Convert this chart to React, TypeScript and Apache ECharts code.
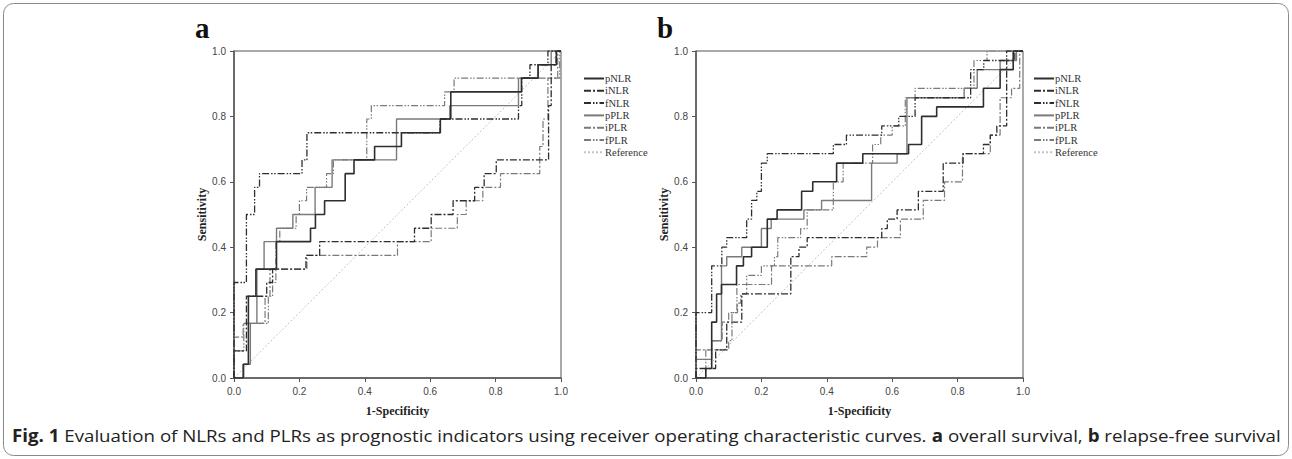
import React, { useEffect, useRef } from "react";
import * as echarts from "echarts";

const seriesNames = ["pNLR", "iNLR", "fNLR", "pPLR", "iPLR", "fPLR", "Reference"];
const tickValues = [0, 0.2, 0.4, 0.6, 0.8, 1.0];

// Panel a: overall survival ROC curves [1-specificity, sensitivity]
const aPNLR = [[0,0],[0.028,0],[0.028,0.042],[0.044,0.042],[0.044,0.25],[0.067,0.25],[0.067,0.333],[0.13,0.333],[0.13,0.417],[0.234,0.417],[0.234,0.458],[0.249,0.458],[0.249,0.5],[0.277,0.5],[0.277,0.542],[0.34,0.542],[0.34,0.625],[0.367,0.625],[0.367,0.667],[0.43,0.667],[0.43,0.708],[0.512,0.708],[0.512,0.75],[0.631,0.75],[0.631,0.792],[0.663,0.792],[0.663,0.875],[0.879,0.875],[0.879,0.917],[0.93,0.917],[0.93,0.958],[0.986,0.958],[0.986,1],[1,1]];
const aINLR = [[0,0],[0,0.083],[0.038,0.083],[0.038,0.25],[0.1,0.25],[0.1,0.292],[0.118,0.292],[0.118,0.333],[0.22,0.333],[0.22,0.375],[0.262,0.375],[0.262,0.417],[0.552,0.417],[0.552,0.458],[0.603,0.458],[0.603,0.5],[0.67,0.5],[0.67,0.542],[0.736,0.542],[0.736,0.583],[0.765,0.583],[0.765,0.625],[0.802,0.625],[0.802,0.667],[0.962,0.667],[0.962,0.833],[0.97,0.833],[0.97,0.958],[0.985,0.958],[0.985,1],[1,1]];
const aFNLR = [[0,0],[0,0.292],[0.038,0.292],[0.038,0.5],[0.063,0.5],[0.063,0.583],[0.078,0.583],[0.078,0.625],[0.208,0.625],[0.208,0.667],[0.223,0.667],[0.223,0.75],[0.63,0.75],[0.63,0.792],[0.87,0.792],[0.87,0.833],[0.88,0.833],[0.88,0.917],[0.905,0.917],[0.905,0.958],[0.96,0.958],[0.96,1],[1,1]];
const aPPLR = [[0,0],[0.03,0],[0.03,0.042],[0.05,0.042],[0.05,0.167],[0.07,0.167],[0.07,0.333],[0.092,0.333],[0.092,0.417],[0.13,0.417],[0.13,0.458],[0.18,0.458],[0.18,0.5],[0.248,0.5],[0.248,0.583],[0.3,0.583],[0.3,0.667],[0.497,0.667],[0.497,0.792],[0.66,0.792],[0.66,0.833],[0.87,0.833],[0.87,0.917],[0.93,0.917],[0.93,0.958],[0.97,0.958],[0.97,1],[1,1]];
const aIPLR = [[0,0],[0,0.125],[0.028,0.125],[0.028,0.167],[0.095,0.167],[0.095,0.25],[0.11,0.25],[0.11,0.333],[0.223,0.333],[0.223,0.375],[0.5,0.375],[0.5,0.417],[0.603,0.417],[0.603,0.458],[0.683,0.458],[0.683,0.5],[0.71,0.5],[0.71,0.542],[0.761,0.542],[0.761,0.583],[0.815,0.583],[0.815,0.625],[0.935,0.625],[0.935,0.708],[0.945,0.708],[0.945,0.792],[0.96,0.792],[0.96,0.917],[0.99,0.917],[0.99,1],[1,1]];
const aFPLR = [[0,0],[0,0.083],[0.03,0.083],[0.03,0.167],[0.105,0.167],[0.105,0.25],[0.118,0.25],[0.118,0.292],[0.128,0.292],[0.128,0.417],[0.14,0.417],[0.14,0.458],[0.19,0.458],[0.19,0.5],[0.2,0.5],[0.2,0.542],[0.222,0.542],[0.222,0.583],[0.283,0.583],[0.283,0.625],[0.304,0.625],[0.304,0.667],[0.406,0.667],[0.406,0.792],[0.42,0.792],[0.42,0.833],[0.644,0.833],[0.644,0.875],[0.673,0.875],[0.673,0.917],[0.996,0.917],[0.996,1],[1,1]];

// Panel b: relapse-free survival ROC curves
const bPNLR = [[0,0],[0.03,0],[0.03,0.029],[0.048,0.029],[0.048,0.171],[0.063,0.171],[0.063,0.257],[0.078,0.257],[0.078,0.286],[0.124,0.286],[0.124,0.343],[0.145,0.343],[0.145,0.371],[0.17,0.371],[0.17,0.4],[0.218,0.4],[0.218,0.486],[0.248,0.486],[0.248,0.514],[0.323,0.514],[0.323,0.571],[0.357,0.571],[0.357,0.6],[0.43,0.6],[0.43,0.657],[0.51,0.657],[0.51,0.686],[0.65,0.686],[0.65,0.714],[0.69,0.714],[0.69,0.8],[0.736,0.8],[0.736,0.829],[0.879,0.829],[0.879,0.886],[0.93,0.886],[0.93,0.943],[0.97,0.943],[0.97,1],[1,1]];
const bINLR = [[0,0],[0,0.029],[0.06,0.029],[0.06,0.086],[0.094,0.086],[0.094,0.171],[0.14,0.171],[0.14,0.257],[0.29,0.257],[0.29,0.371],[0.315,0.371],[0.315,0.4],[0.34,0.4],[0.34,0.429],[0.568,0.429],[0.568,0.457],[0.585,0.457],[0.585,0.486],[0.615,0.486],[0.615,0.514],[0.68,0.514],[0.68,0.571],[0.756,0.571],[0.756,0.657],[0.817,0.657],[0.817,0.686],[0.879,0.686],[0.879,0.714],[0.9,0.714],[0.9,0.743],[0.92,0.743],[0.92,0.771],[0.95,0.771],[0.95,0.971],[0.975,0.971],[0.975,1],[1,1]];
const bFNLR = [[0,0],[0,0.2],[0.048,0.2],[0.048,0.343],[0.079,0.343],[0.079,0.4],[0.094,0.4],[0.094,0.429],[0.155,0.429],[0.155,0.486],[0.17,0.486],[0.17,0.543],[0.186,0.543],[0.186,0.571],[0.2,0.571],[0.2,0.657],[0.218,0.657],[0.218,0.686],[0.42,0.686],[0.42,0.714],[0.46,0.714],[0.46,0.743],[0.568,0.743],[0.568,0.771],[0.62,0.771],[0.62,0.8],[0.67,0.8],[0.67,0.857],[0.84,0.857],[0.84,0.943],[0.88,0.943],[0.88,0.971],[0.95,0.971],[0.95,1],[1,1]];
const bPPLR = [[0,0],[0,0.057],[0.048,0.057],[0.048,0.114],[0.078,0.114],[0.078,0.343],[0.094,0.343],[0.094,0.371],[0.14,0.371],[0.14,0.4],[0.2,0.4],[0.2,0.457],[0.23,0.457],[0.23,0.486],[0.33,0.486],[0.33,0.514],[0.384,0.514],[0.384,0.543],[0.537,0.543],[0.537,0.657],[0.615,0.657],[0.615,0.686],[0.645,0.686],[0.645,0.857],[0.82,0.857],[0.82,0.886],[0.86,0.886],[0.86,0.943],[0.93,0.943],[0.93,0.971],[0.98,0.971],[0.98,1],[1,1]];
const bIPLR = [[0,0],[0,0.086],[0.048,0.086],[0.048,0.114],[0.08,0.114],[0.08,0.171],[0.1,0.171],[0.1,0.2],[0.127,0.2],[0.127,0.229],[0.137,0.229],[0.137,0.257],[0.155,0.257],[0.155,0.286],[0.231,0.286],[0.231,0.343],[0.415,0.343],[0.415,0.371],[0.522,0.371],[0.522,0.4],[0.555,0.4],[0.555,0.429],[0.625,0.429],[0.625,0.486],[0.695,0.486],[0.695,0.543],[0.76,0.543],[0.76,0.6],[0.815,0.6],[0.815,0.686],[0.9,0.686],[0.9,0.743],[0.93,0.743],[0.93,0.857],[0.965,0.857],[0.965,0.886],[0.99,0.886],[0.99,1],[1,1]];
const bFPLR = [[0,0],[0.03,0],[0.03,0.086],[0.1,0.086],[0.1,0.114],[0.11,0.114],[0.11,0.2],[0.125,0.2],[0.125,0.286],[0.155,0.286],[0.155,0.314],[0.2,0.314],[0.2,0.343],[0.24,0.343],[0.24,0.371],[0.25,0.371],[0.25,0.429],[0.32,0.429],[0.32,0.457],[0.34,0.457],[0.34,0.514],[0.42,0.514],[0.42,0.6],[0.45,0.6],[0.45,0.657],[0.54,0.657],[0.54,0.714],[0.565,0.714],[0.565,0.743],[0.6,0.743],[0.6,0.771],[0.64,0.771],[0.64,0.857],[0.67,0.857],[0.67,0.886],[0.85,0.886],[0.85,0.971],[0.89,0.971],[0.89,1],[1,1]];
const referenceLine = [[0,0],[1,1]];

const panelA = [aPNLR, aINLR, aFNLR, aPPLR, aIPLR, aFPLR, referenceLine];
const panelB = [bPNLR, bINLR, bFNLR, bPPLR, bIPLR, bFPLR, referenceLine];

const captionBold = "Fig. 1";
const captionText = " Evaluation of NLRs and PLRs as prognostic indicators using receiver operating characteristic curves. ";
const captionA = "a";
const captionAText = " overall survival, ";
const captionB = "b";
const captionBText = " relapse-free survival";

const DARK = "#2e2e2e";
const LIGHT = "#7a7a7a";
const styles = [
  { color: DARK, type: "solid", width: 1.6 },
  { color: DARK, type: [7, 2, 2, 2], width: 1.3 },
  { color: DARK, type: [7, 2, 1.5, 1.5, 1.5, 2], width: 1.3 },
  { color: LIGHT, type: "solid", width: 1.4 },
  { color: LIGHT, type: [7, 2, 2, 2], width: 1.2 },
  { color: LIGHT, type: [7, 2, 1.5, 1.5, 1.5, 2], width: 1.2 },
  { color: "#c4c4c4", type: [2, 2], width: 1 },
];

const GRID_TOP = 51;
const GRID_SIZE = 327;
const gridLefts = [234, 696];

export default function App() {
  const ref = useRef<HTMLDivElement>(null);
  useEffect(() => {
    if (!ref.current) return;
    const chart = echarts.init(ref.current, undefined, { renderer: "svg" });
    const axisCommon = {
      type: "value",
      min: 0,
      max: 1,
      interval: 0.2,
      axisLine: { show: true, onZero: false, lineStyle: { color: "#555", width: 1.5 } },
      axisTick: { show: true, inside: false, length: 4, lineStyle: { color: "#555" } },
      axisLabel: {
        color: "#444",
        fontSize: 10,
        fontFamily: "Liberation Sans, Arial, sans-serif",
        formatter: (v: number) => v.toFixed(1),
      },
      splitLine: { show: false },
      nameTextStyle: {
        fontFamily: "Liberation Serif, Times New Roman, serif",
        fontWeight: "bold",
        fontSize: 12,
        color: "#222",
      },
    };
    const grids = gridLefts.map((l) => ({
      left: l,
      top: GRID_TOP,
      width: GRID_SIZE,
      height: GRID_SIZE,
      show: true,
      borderColor: "#555",
      borderWidth: 1,
      backgroundColor: "transparent",
    }));
    const xAxes = gridLefts.map((_, i) => ({
      ...axisCommon,
      gridIndex: i,
      name: "1-Specificity",
      nameLocation: "middle",
      nameGap: 27,
    }));
    const yAxes = gridLefts.map((_, i) => ({
      ...axisCommon,
      gridIndex: i,
      name: "Sensitivity",
      nameLocation: "middle",
      nameGap: 26,
    }));
    const series: any[] = [];
    [panelA, panelB].forEach((panel, pi) => {
      panel.forEach((data, si) => {
        series.push({
          type: "line",
          name: seriesNames[si],
          xAxisIndex: pi,
          yAxisIndex: pi,
          data,
          symbol: "none",
          showSymbol: false,
          silent: true,
          color: styles[si].color,
          itemStyle: { color: styles[si].color },
          z: si === 6 ? 1 : 10 - si,
          lineStyle: styles[si],
        });
      });
    });
    const legendCommon = {
      orient: "vertical",
      top: 73,
      itemWidth: 20,
      itemHeight: 10,
      itemGap: 1.3,
      data: seriesNames,
      itemStyle: { opacity: 0, borderWidth: 0 },
      textStyle: {
        fontFamily: "Liberation Serif, Times New Roman, serif",
        fontSize: 10.5,
        color: "#333",
        lineHeight: 10,
        padding: [0, 0, 0, -4],
      },
      padding: 0,
    };
    chart.setOption({
      animation: false,
      backgroundColor: "#fff",
      grid: grids,
      xAxis: xAxes,
      yAxis: yAxes,
      legend: [
        { ...legendCommon, left: 583 },
        { ...legendCommon, left: 1033 },
      ],
      series,
      graphic: [
        {
          type: "rect",
          shape: { x: 3.5, y: 3.5, width: 1285, height: 452, r: 10 },
          style: { fill: "none", stroke: "#8a8a8a", lineWidth: 1 },
          silent: true,
        },
        {
          type: "text",
          left: 195,
          top: 13,
          style: { text: "a", font: "bold 29px 'Liberation Serif', serif", fill: "#111" },
        },
        {
          type: "text",
          left: 657,
          top: 13,
          style: { text: "b", font: "bold 29px 'Liberation Serif', serif", fill: "#111" },
        },
        {
          type: "text",
          left: 12,
          top: 427,
          scaleX: 1.1,
          style: {
            text: `{b|${captionBold}}{n|${captionText}}{b|${captionA}}{n|${captionAText}}{b|${captionB}}{n|${captionBText}}`,
            rich: {
              b: { font: "bold 17px 'Open Sans', sans-serif", fill: "#222" },
              n: { font: "17px 'Open Sans', sans-serif", fill: "#222" },
            },
          },
        },
      ],
    });
    return () => chart.dispose();
  }, []);
  return (
    <div style={{ position: "fixed", left: 0, top: 0, width: 1292, height: 459, background: "#fff" }}>
      <div ref={ref} style={{ width: 1292, height: 459 }} />
    </div>
  );
}
